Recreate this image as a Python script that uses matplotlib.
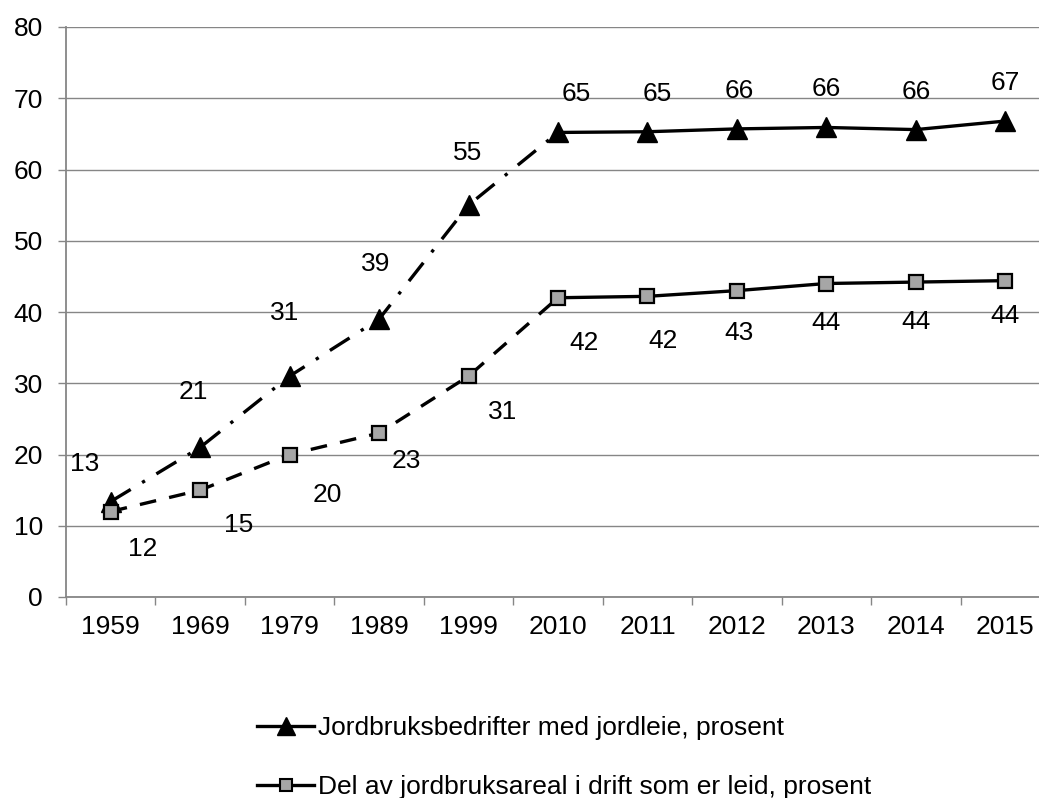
import matplotlib.pyplot as plt
from matplotlib.lines import Line2D
from matplotlib.ticker import MultipleLocator, FixedLocator

plt.rcParams['font.family'] = ['Liberation Sans', 'DejaVu Sans']

years = ['1959', '1969', '1979', '1989', '1999', '2010', '2011', '2012', '2013', '2014', '2015']
farms_share = [13.4, 21, 31, 39, 55, 65.2, 65.3, 65.7, 65.9, 65.6, 66.8]
area_share = [12, 15, 20, 23, 31, 42, 42.2, 43, 44, 44.2, 44.4]
farms_labels = ['13', '21', '31', '39', '55', '65', '65', '66', '66', '66', '67']
area_labels = ['12', '15', '20', '23', '31', '42', '42', '43', '44', '44', '44']
farms_name = 'Jordbruksbedrifter med jordleie, prosent'
area_name = 'Del av jordbruksareal i drift som er leid, prosent'

# label offsets in pixels (dx, dy), placed like the Excel original
farms_off = [(-26, 38), (-7, 55), (-5, 63), (-3, 55), (-1, 52), (18, 38), (10, 38), (2, 38), (0, 38), (0, 38), (0, 38)]
area_off = [(32, -38), (38, -35), (38, -41), (27, -28), (34, -36), (26, -45), (16, -45), (2, -42), (0, -40), (0, -40), (0, -35)]

fs = 19
fig = plt.figure(figsize=(10.39, 7.98), dpi=100)
ax = fig.add_axes([66 / 1039, 1 - 597 / 798, (1050 - 66) / 1039, (597 - 27) / 798])

x = list(range(len(years)))
split = 5  # census years drawn dashed, annual values solid

lw = 2.4
ax.plot(x[:split + 1], farms_share[:split + 1], color='black', lw=lw, dashes=(7, 4, 1, 4), zorder=3)
ax.plot(x[split:], farms_share[split:], color='black', lw=lw, zorder=3)
ax.plot(x, farms_share, ls='none', marker='^', ms=15, mfc='black', mec='black', zorder=4)

ax.plot(x[:split + 1], area_share[:split + 1], color='black', lw=lw, dashes=(5, 4), zorder=3)
ax.plot(x[split:], area_share[split:], color='black', lw=lw, zorder=3)
ax.plot(x, area_share, ls='none', marker='s', ms=9.5, mfc='#a6a6a6', mec='black', mew=1.6, zorder=4)

for i in x:
    ax.annotate(farms_labels[i], (i, farms_share[i]), xytext=farms_off[i], textcoords='offset pixels',
                ha='center', va='center', fontsize=fs)
    ax.annotate(area_labels[i], (i, area_share[i]), xytext=area_off[i], textcoords='offset pixels',
                ha='center', va='center', fontsize=fs)

ax.set_xlim(-0.5, len(years) - 0.5)
ax.set_ylim(0, 80)
ax.yaxis.set_major_locator(MultipleLocator(10))
ax.set_xticks(x)
ax.set_xticklabels(years)
ax.xaxis.set_minor_locator(FixedLocator([i - 0.5 for i in range(len(years) + 1)]))
ax.tick_params(axis='x', which='major', length=0, pad=13, labelsize=fs)
ax.tick_params(axis='x', which='minor', length=5.8, width=1, color='#868686', direction='out')
ax.tick_params(axis='y', length=5.8, width=1, color='#868686', pad=10.8, labelsize=fs)

ax.grid(axis='y', color='#868686', lw=1)
ax.set_axisbelow(True)
for s in ['top', 'right']:
    ax.spines[s].set_visible(False)
for s in ['left', 'bottom']:
    ax.spines[s].set_color('#868686')
    ax.spines[s].set_linewidth(1.3)

handles = [
    Line2D([], [], color='black', lw=lw, marker='^', ms=13, mfc='black', mec='black'),
    Line2D([], [], color='black', lw=lw, marker='s', ms=8.5, mfc='#a6a6a6', mec='black', mew=1.5),
]
fig.legend(handles, [farms_name, area_name], loc='upper left', bbox_to_anchor=(257 / 1039, 1 - 716 / 798),
           frameon=False, fontsize=fs, handlelength=2.16, handletextpad=0.15, labelspacing=1.33,
           borderpad=0, borderaxespad=0)

fig.savefig('out.png', dpi=100)
